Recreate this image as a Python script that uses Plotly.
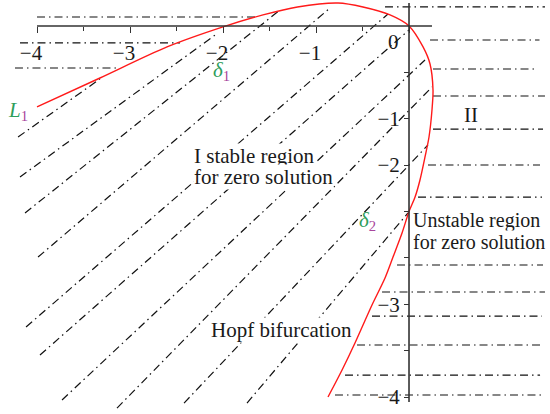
import plotly.graph_objects as go

# ---------------- data ----------------
# red boundary curve
curve_x = [-4.0, -3.323, -2.602, -2.0, -1.570, -1.2, -0.763, -0.495, -0.204, 0.0,
           0.151, 0.226, 0.258, 0.247, 0.215, 0.172, 0.118, 0.065, 0.0, -0.075,
           -0.172, -0.258, -0.398, -0.581, -0.720, -0.871]
curve_y = [-0.873, -0.561, -0.226, -0.01, 0.119, 0.205, 0.248, 0.205, 0.119, 0.0,
           -0.226, -0.410, -0.690, -0.906, -1.197, -1.412, -1.660, -1.844, -2.0, -2.232,
           -2.491, -2.717, -3.008, -3.418, -3.709, -4.0]

# diagonal hatch lines (start -> end)
diag_x0 = [-4.204, -4.183, -4.129, -3.989, -4.118, -3.968, -3.731, -3.140, -2.419, -1.742]
diag_y0 = [-1.197, -1.628, -2.016, -2.491, -3.245, -3.547, -4.032, -4.119, -4.065, -4.065]
diag_x1 = [-3.323, -2.054, -1.387, -0.849, -0.226, 0.0, 0.172, 0.247, 0.204, -0.011]
diag_y1 = [-0.571, -0.075, 0.173, 0.194, 0.129, -0.043, -0.367, -0.658, -1.283, -2.016]

# horizontal hatch lines
hor_y = [0.097, -0.183, -0.453,
         0.205, -0.151, -0.464, -0.755, -1.111, -1.499, -1.844,
         -2.577, -2.868, -3.127, -3.439, -3.763, -3.978]
hor_x0 = [-4.0, -4.183, -4.237,
          -0.258, 0.226, 0.258, 0.258, 0.258, 0.204, 0.097,
          -0.129, -0.290, -0.398, -0.559, -0.688, -0.796]
hor_x1 = [-1.656, -2.462, -3.140,
          1.462, 1.403, 1.376, 1.462, 1.441, 1.409, 1.430,
          1.441, 1.462, 1.430, 1.409, 1.409, 1.462]

# axes
x_major = [-4, -3, -2, -1, 0]
x_major_text = ["\u22124", "\u22123", "\u22122", "\u22121", " "]
x_minor = [-3.5, -2.5, -1.5, -0.5]
y_major = [-1, -1.5, -3, -4]
y_major_text = ["\u22121", "\u22122", "\u22123", "\u22124"]
y_minor = [-0.5, -2, -2.5, -3.5]
axis_x_span = [-4.0, 0.247]
axis_y_span = [0.248, -4.054]

# ---------------- figure ----------------
FONT = "Liberation Serif"
DASH = "8px,4px,1.5px,4px"
fig = go.Figure()

for x0, y0, x1, y1 in zip(diag_x0, diag_y0, diag_x1, diag_y1):
    fig.add_trace(go.Scatter(x=[x0, x1], y=[y0, y1], mode="lines",
                             line=dict(color="#111", width=1.2, dash=DASH),
                             hoverinfo="skip", showlegend=False))
for y, x0, x1 in zip(hor_y, hor_x0, hor_x1):
    fig.add_trace(go.Scatter(x=[x0, x1], y=[y, y], mode="lines",
                             line=dict(color="#111", width=1.2, dash=DASH),
                             hoverinfo="skip", showlegend=False))

fig.add_trace(go.Scatter(x=curve_x, y=curve_y, mode="lines",
                         line=dict(color="#ff1a1a", width=1.4, shape="spline", smoothing=0.8),
                         hoverinfo="skip", showlegend=False))

# axis lines
fig.add_trace(go.Scatter(x=axis_x_span, y=[0, 0], mode="lines",
                         line=dict(color="#333", width=1.6), hoverinfo="skip", showlegend=False))
fig.add_trace(go.Scatter(x=[0, 0], y=axis_y_span, mode="lines",
                         line=dict(color="#333", width=1.6), hoverinfo="skip", showlegend=False))

xr = [-4.398, 1.516]
yr = [-4.183, 0.280]
xpos = (0 - yr[0]) / (yr[1] - yr[0])
ypos = (0 - xr[0]) / (xr[1] - xr[0])

fig.update_layout(
    width=550, height=414, autosize=False,
    margin=dict(l=0, r=0, t=0, b=0),
    paper_bgcolor="white", plot_bgcolor="white",
    font=dict(family=FONT, size=20, color="#1a1a1a"),
    xaxis=dict(range=xr, domain=[0, 1], anchor="free", position=xpos,
               showgrid=False, zeroline=False, showline=False,
               tickmode="array", tickvals=x_major, ticktext=x_major_text,
               ticks="outside", ticklen=6, tickwidth=1.3, tickcolor="#333",
               ticklabelshift=-6, ticklabelstandoff=2,
               tickfont=dict(family=FONT, size=21, color="#1a1a1a"),
               minor=dict(tickvals=x_minor, ticks="outside", ticklen=4,
                          tickwidth=1.3, tickcolor="#333", showgrid=False)),
    yaxis=dict(range=yr, domain=[0, 1], anchor="free", position=ypos,
               showgrid=False, zeroline=False, showline=False,
               tickmode="array", tickvals=y_major, ticktext=y_major_text,
               ticks="outside", ticklen=5, tickwidth=1.3, tickcolor="#333",
               tickfont=dict(family=FONT, size=21, color="#1a1a1a"),
               minor=dict(tickvals=y_minor, ticks="outside", ticklen=5,
                          tickwidth=1.3, tickcolor="#333", showgrid=False)),
)

GREEN = "#2e9e5b"
MAG = "#a8459c"

def ann(x, y, text, xanchor="left", bg="white", size=21):
    fig.add_annotation(x=x, y=y, text=text, showarrow=False, xanchor=xanchor,
                       yanchor="middle", bgcolor=bg, borderpad=0,
                       font=dict(family=FONT, size=size, color="#1a1a1a"))

ann(-0.172, -0.173, "0", xanchor="center", bg="rgba(0,0,0,0)")
ann(-2.323, -1.402, "I stable region")
ann(-2.323, -1.627, "for zero solution")
ann(-2.140, -3.278, "Hopf bifurcation")
ann(0.032, -2.092, "Unstable region", size=20)
ann(0.032, -2.329, "for zero solution", size=20)
ann(0.667, -0.960, "II", xanchor="center", bg="rgba(0,0,0,0)")
ann(-4.204, -0.92, f"<span style='color:{GREEN}'><i>L</i></span><sub><span style='color:{MAG}'>1</span></sub>",
    xanchor="center", bg="rgba(0,0,0,0)")
ann(-2.02, -0.49, f"<span style='color:{GREEN}'><i>\u03b4</i></span><sub><span style='color:{MAG}'>1</span></sub>",
    xanchor="center", bg="rgba(0,0,0,0)")
ann(-0.45, -2.10, f"<span style='color:{GREEN}'><i>\u03b4</i></span><sub><span style='color:{MAG}'>2</span></sub>",
    xanchor="center", bg="rgba(0,0,0,0)")

fig.write_html("out.html", config={"displayModeBar": False},
               post_script="document.body.style.margin='0px';")
